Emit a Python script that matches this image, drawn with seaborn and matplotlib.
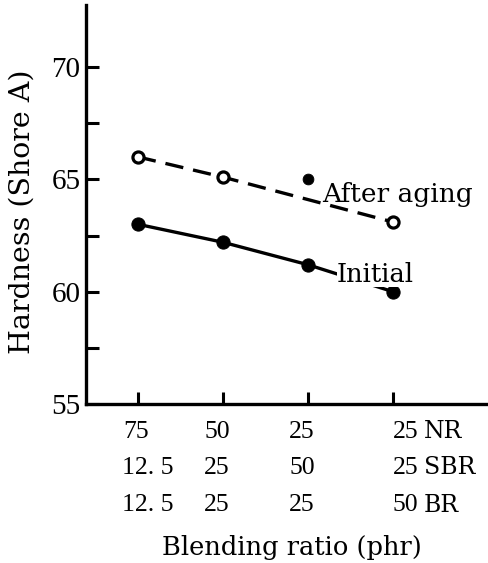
import matplotlib
matplotlib.use("Agg")
import matplotlib.pyplot as plt
import pandas as pd
import seaborn as sns
from matplotlib.ticker import FixedLocator
from matplotlib.transforms import blended_transform_factory, offset_copy

# Blend compositions (phr) for each compound
blend_pos = [1, 2, 3, 4]
nr = ["75", "50", "25", "25"]
sbr = ["12. 5", "25", "50", "25"]
br = ["12. 5", "25", "25", "50"]
rubbers = ["NR", "SBR", "BR"]

# Shore A hardness
initial = [63.0, 62.2, 61.2, 60.0]
after_aging = [66.0, 65.1, 65.0, 63.1]

y_major = [55, 60, 65, 70]
y_minor = [57.5, 62.5, 67.5]

sns.set_style("ticks")
plt.rcParams["font.family"] = ["DejaVu Serif"]
plt.rcParams.update({"text.color": "black", "axes.labelcolor": "black",
                     "xtick.color": "black", "ytick.color": "black"})
num_font = "Liberation Serif"

W, H = 489, 563
fig = plt.figure(figsize=(W / 100, H / 100), dpi=100)
ax = fig.add_axes([86 / W, (H - 404) / H, 1 - 86 / W, (404 - 5) / H])

df_init = pd.DataFrame({"blend": blend_pos, "hardness": initial})
df_aged = pd.DataFrame({"blend": blend_pos, "hardness": after_aging})
aged_trend = df_aged.drop(index=2)
aged_odd = df_aged.loc[[2]]

sns.lineplot(data=df_init, x="blend", y="hardness", ax=ax, color="black",
             lw=2.4, marker="o", markersize=9.5, markerfacecolor="black",
             markeredgecolor="black", zorder=3)
sns.lineplot(data=aged_trend, x="blend", y="hardness", ax=ax, color="black",
             lw=2.4, linestyle=(0, (5.5, 3)), marker="o", markersize=8,
             markerfacecolor="white", markeredgecolor="black",
             markeredgewidth=2.3, zorder=3)
sns.scatterplot(data=aged_odd, x="blend", y="hardness", ax=ax, color="black",
                s=60, edgecolor="black", zorder=4)

ax.set_xlim(0.39, 5.13)
ax.set_ylim(55, 72.76)
ax.set_xticks(blend_pos)
ax.set_xticklabels([])
ax.yaxis.set_major_locator(FixedLocator(y_major))
ax.yaxis.set_minor_locator(FixedLocator(y_minor))
ax.set_yticklabels([str(v) for v in y_major], fontfamily=num_font, fontsize=21)
ax.tick_params(axis="both", which="both", direction="in", length=9, width=2.2,
               color="black")
ax.tick_params(axis="y", pad=4)
ax.set_xlabel("")
ax.set_ylabel("")
for side in ("top", "right"):
    ax.spines[side].set_visible(False)
for side in ("left", "bottom"):
    ax.spines[side].set_linewidth(2.4)
    ax.spines[side].set_color("black")

# Composition table under the x axis
base = blended_transform_factory(ax.transData, ax.transAxes)
rows = [nr, sbr, br]
row_dy = [-28, -64, -101]
col_dx = [-2, -6, -6]
for r, (vals, dy) in enumerate(zip(rows, row_dy)):
    for c, (xp, val) in enumerate(zip(blend_pos, vals)):
        if c < 3:
            dx = col_dx[c] + (12 if "." in val else 0)
            tr = offset_copy(base, fig=fig, x=dx, y=dy, units="dots")
            ax.text(xp, 0, val, transform=tr, ha="center", va="center",
                    fontfamily=num_font, fontsize=18.5)
        else:
            tr = offset_copy(base, fig=fig, x=0, y=dy, units="dots")
            ax.text(xp, 0, val, transform=tr, ha="left", va="center",
                    fontfamily=num_font, fontsize=18.5)
            tr2 = offset_copy(base, fig=fig, x=31, y=dy, units="dots")
            ax.text(xp, 0, rubbers[r], transform=tr2, ha="left", va="center",
                    fontsize=17)

fig.text(292 / W, 1 - 548 / H, "Blending ratio (phr)", ha="center",
         va="center", fontsize=18.5)
fig.text(22 / W, 1 - 212 / H, "Hardness (Shore A)", ha="center", va="center",
         rotation=90, fontsize=20.5)

ax.text(3.165, 63.99, "After aging", ha="left", va="baseline", fontsize=19,
        zorder=5)
ax.text(3.34, 60.43, "Initial", ha="left", va="baseline", fontsize=18.5,
        zorder=5, bbox=dict(facecolor="white", edgecolor="none", pad=0))

fig.savefig("out.png", dpi=100)
